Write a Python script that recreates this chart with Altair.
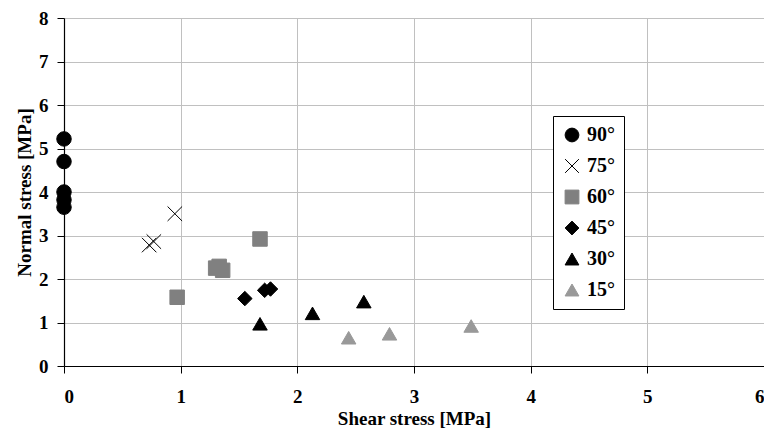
import altair as alt
import pandas as pd

angles = ["90°", "75°", "60°", "45°", "30°", "15°"]

shear_90 = [0.0, 0.0, 0.0, 0.0, 0.0]
normal_90 = [5.22, 4.70, 4.00, 3.82, 3.65]

shear_75 = [0.95, 0.77, 0.73]
normal_75 = [3.50, 2.86, 2.78]

shear_60 = [0.97, 1.30, 1.36, 1.33, 1.68]
normal_60 = [1.58, 2.25, 2.20, 2.29, 2.92]

shear_45 = [1.55, 1.72, 1.77]
normal_45 = [1.55, 1.74, 1.77]

shear_30 = [1.68, 2.13, 2.57]
normal_30 = [0.97, 1.21, 1.48]

shear_15 = [2.44, 2.79, 3.49]
normal_15 = [0.65, 0.74, 0.92]

x_ticks = [0, 1, 2, 3, 4, 5, 6]
y_ticks = [0, 1, 2, 3, 4, 5, 6, 7, 8]

rows = []
for ang, xs, ys in [
    ("90°", shear_90, normal_90),
    ("75°", shear_75, normal_75),
    ("60°", shear_60, normal_60),
    ("45°", shear_45, normal_45),
    ("30°", shear_30, normal_30),
    ("15°", shear_15, normal_15),
]:
    for x, y in zip(xs, ys):
        rows.append({"angle": ang, "shear": x, "normal": y})
df = pd.DataFrame(rows)

xshape = "M-1,-1L1,1M-1,1L1,-1"
shapes = ["circle", xshape, "square", "diamond", "triangle-up", "triangle-up"]
fills = ["#000000", "#000000", "#808080", "#000000", "#000000", "#999999"]

FONT = "Liberation Serif"

chart = alt.Chart(df).mark_point(filled=True, size=210, strokeWidth=1, opacity=1).encode(
    x=alt.X("shear:Q", title="Shear stress [MPa]",
            scale=alt.Scale(domain=[0, 6], nice=False, zero=True),
            axis=alt.Axis(values=x_ticks, labelOverlap=False)),
    y=alt.Y("normal:Q", title="Normal stress [MPa]",
            scale=alt.Scale(domain=[0, 8], nice=False),
            axis=alt.Axis(values=y_ticks, labelOverlap=False)),
    shape=alt.Shape("angle:N", scale=alt.Scale(domain=angles, range=shapes), title=None),
    fill=alt.Fill("angle:N", scale=alt.Scale(domain=angles, range=fills), title=None),
    stroke=alt.Stroke("angle:N", scale=alt.Scale(domain=angles, range=fills), title=None),
).properties(
    width=700,
    height=348,
    autosize=alt.AutoSizeParams(type="none"),
    padding={"left": 56, "top": 10, "right": 0, "bottom": 65},
).configure_view(
    strokeWidth=0
).configure_axis(
    grid=True,
    gridColor="#c0c0c0",
    gridWidth=1,
    domainColor="#000000",
    domainWidth=1.2,
    tickColor="#000000",
    tickSize=7,
    labelFont=FONT,
    labelFontWeight="bold",
    labelFontSize=19,
    labelColor="#000000",
    titleFont=FONT,
    titleFontWeight="bold",
    titleFontSize=19,
    titleColor="#000000",
).configure_axisX(
    labelPadding=14,
    titlePadding=3,
).configure_axisY(
    labelPadding=9,
    titlePadding=4,
).configure_legend(
    orient="none",
    legendX=489,
    legendY=98,
    padding=9,
    strokeColor="#000000",
    fillColor="#ffffff",
    labelFont=FONT,
    labelFontWeight="bold",
    labelFontSize=20,
    labelColor="#000000",
    symbolSize=190,
    symbolStrokeWidth=1,
    rowPadding=11,
    labelOffset=5,
)

chart.save("out.html", embed_options={"renderer": "svg", "actions": False})
